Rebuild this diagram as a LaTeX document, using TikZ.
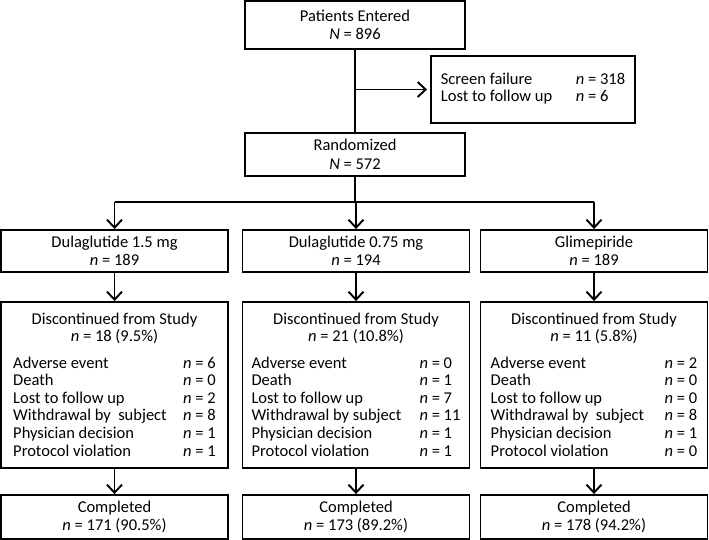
\documentclass[tikz,border=0pt]{standalone}
\usepackage{fontspec}
\setmainfont{Carlito}
\usetikzlibrary{arrows.meta}
\renewcommand{\arraystretch}{0.95}

\begin{document}
\begin{tikzpicture}[auto, x=1pt, y=-1pt, line width=1.9pt,
>={Straight Barb[length=8pt,width=15pt]},
block/.style = {rectangle, draw=black, align=center, inner sep=0pt,
  font=\fontsize{16.5}{18.5}\selectfont},
arm/.style = {block, minimum width=227pt, minimum height=42pt},
disc/.style = {block, minimum width=227pt, minimum height=166pt},
done/.style = {block, minimum width=227pt, minimum height=44pt}]
\useasboundingbox (0,0) rectangle (709,540);
\node[block, minimum width=220pt, minimum height=48pt] at (355,25) (enter) {Patients Entered\\\textit{N} = 896};
\node[block, minimum width=204pt, minimum height=67pt] at (533,89.5) (scr) {\begin{tabular}{@{}p{135pt}@{}l@{}}
Screen failure & \textit{n} = 318\\
Lost to follow up & \textit{n} = 6\end{tabular}};
\node[block, minimum width=220pt, minimum height=43pt] at (355,154.5) (rand) {Randomized\\\textit{N} = 572};
\coordinate (split) at (355,202);
% treatment arms
\node[arm] at (114.5,251) (dula15) {Dulaglutide 1.5 mg\\\textit{n} = 189};
\node[arm] at (356,251) (dula075) {Dulaglutide 0.75 mg\\\textit{n} = 194};
\node[arm] at (594,251) (glim) {Glimepiride\\\textit{n} = 189};
\node[disc] at (114.5,385) (disc15) {\begin{tabular}{@{}p{170pt}@{}l@{}}
\multicolumn{2}{c}{Discontinued from Study}\\
\multicolumn{2}{c}{\textit{n} = 18 (9.5\%)}\\[9pt]
Adverse event & \textit{n} = 6\\
Death & \textit{n} = 0\\
Lost to follow up & \textit{n} = 2\\
Withdrawal by\ \ subject & \textit{n} = 8\\
Physician decision & \textit{n} = 1\\
Protocol violation & \textit{n} = 1\\[-3pt]\end{tabular}};
\node[disc] at (356,385) (disc075) {\begin{tabular}{@{}p{168pt}@{}l@{}}
\multicolumn{2}{c}{Discontinued from Study}\\
\multicolumn{2}{c}{\textit{n} = 21 (10.8\%)}\\[9pt]
Adverse event & \textit{n} = 0\\
Death & \textit{n} = 1\\
Lost to follow up & \textit{n} = 7\\
Withdrawal by subject & \textit{n} = 11\\
Physician decision & \textit{n} = 1\\
Protocol violation & \textit{n} = 1\\[-3pt]\end{tabular}};
\node[disc] at (594,385) (discglim) {\begin{tabular}{@{}p{174pt}@{}l@{}}
\multicolumn{2}{c}{Discontinued from Study}\\
\multicolumn{2}{c}{\textit{n} = 11 (5.8\%)}\\[9pt]
Adverse event & \textit{n} = 2\\
Death & \textit{n} = 0\\
Lost to follow up & \textit{n} = 0\\
Withdrawal by\ \ subject & \textit{n} = 8\\
Physician decision & \textit{n} = 1\\
Protocol violation & \textit{n} = 0\\[-3pt]\end{tabular}};
\node[done] at (114.5,517) (comp15) {Completed\\\textit{n} = 171 (90.5\%)};
\node[done] at (356,517) (comp075) {Completed\\\textit{n} = 173 (89.2\%)};
\node[done] at (594,517) (compglim) {Completed\\\textit{n} = 178 (94.2\%)};
% connectors
\draw (enter) -- (rand);
\draw [->, shorten >=3pt] (enter.south |- scr.west) -- (scr.west);
\draw (rand.south) -- (split);
\draw (split -| dula15) -- (split -| glim);
\draw [->] (split -| dula15) -- (dula15.north);
\draw [->] (split -| dula075) -- (dula075.north);
\draw [->] (split -| glim) -- (glim.north);
\draw [->] (dula15) -- (disc15);
\draw [->] (dula075) -- (disc075);
\draw [->] (glim) -- (discglim);
\draw [->] (disc15) -- (comp15);
\draw [->] (disc075) -- (comp075);
\draw [->] (discglim) -- (compglim);
\end{tikzpicture}
\end{document}
